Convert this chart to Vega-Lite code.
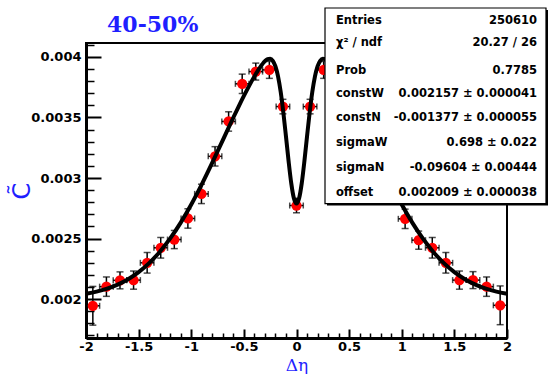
{
  "$schema": "https://vega.github.io/schema/vega-lite/v6.json",
  "width": 421,
  "height": 295,
  "autosize": {"type": "none"},
  "padding": {"left": 86, "top": 43, "right": 43, "bottom": 36},
  "background": "white",
  "config": {"view": {"stroke": "black", "strokeWidth": 2}},
  "datasets": {
    "pts": [
      {"deta": -1.935, "c": 0.001945, "err": 0.00016, "xerr": 0.0645},
      {"deta": -1.806, "c": 0.002103, "err": 0.00008, "xerr": 0.0645},
      {"deta": -1.677, "c": 0.002155, "err": 0.00007, "xerr": 0.0645},
      {"deta": -1.548, "c": 0.002157, "err": 0.000075, "xerr": 0.0645},
      {"deta": -1.419, "c": 0.0023, "err": 0.000085, "xerr": 0.0645},
      {"deta": -1.29, "c": 0.002424, "err": 0.000085, "xerr": 0.0645},
      {"deta": -1.161, "c": 0.002492, "err": 0.000075, "xerr": 0.0645},
      {"deta": -1.032, "c": 0.002666, "err": 0.00008, "xerr": 0.0645},
      {"deta": -0.903, "c": 0.002869, "err": 0.00008, "xerr": 0.0645},
      {"deta": -0.774, "c": 0.003179, "err": 0.00008, "xerr": 0.0645},
      {"deta": -0.645, "c": 0.003467, "err": 0.00008, "xerr": 0.0645},
      {"deta": -0.516, "c": 0.003778, "err": 0.00008, "xerr": 0.0645},
      {"deta": -0.387, "c": 0.003879, "err": 0.00007, "xerr": 0.0645},
      {"deta": -0.258, "c": 0.003893, "err": 0.00007, "xerr": 0.0645},
      {"deta": -0.129, "c": 0.00359, "err": 0.00006, "xerr": 0.0645},
      {"deta": 0, "c": 0.002773, "err": 0.00006, "xerr": 0.0645},
      {"deta": 0.129, "c": 0.00359, "err": 0.00006, "xerr": 0.0645},
      {"deta": 0.258, "c": 0.003893, "err": 0.00007, "xerr": 0.0645},
      {"deta": 0.387, "c": 0.00388, "err": 0.00007, "xerr": 0.0645},
      {"deta": 0.516, "c": 0.00378, "err": 0.00008, "xerr": 0.0645},
      {"deta": 0.645, "c": 0.00347, "err": 0.00008, "xerr": 0.0645},
      {"deta": 0.774, "c": 0.00318, "err": 0.00008, "xerr": 0.0645},
      {"deta": 0.903, "c": 0.00287, "err": 0.00008, "xerr": 0.0645},
      {"deta": 1.032, "c": 0.002663, "err": 0.00008, "xerr": 0.0645},
      {"deta": 1.161, "c": 0.002487, "err": 0.000075, "xerr": 0.0645},
      {"deta": 1.29, "c": 0.002424, "err": 0.000085, "xerr": 0.0645},
      {"deta": 1.419, "c": 0.0023, "err": 0.000085, "xerr": 0.0645},
      {"deta": 1.548, "c": 0.002157, "err": 0.000075, "xerr": 0.0645},
      {"deta": 1.677, "c": 0.002157, "err": 0.00007, "xerr": 0.0645},
      {"deta": 1.806, "c": 0.002103, "err": 0.00008, "xerr": 0.0645},
      {"deta": 1.935, "c": 0.001949, "err": 0.00016, "xerr": 0.0645}
    ],
    "fit": [
      {"deta": -2.0, "c": 0.0020446}, {"deta": -1.9, "c": 0.0020621}, {"deta": -1.8, "c": 0.0020866},
      {"deta": -1.7, "c": 0.0021201}, {"deta": -1.6, "c": 0.0021649}, {"deta": -1.5, "c": 0.0022233},
      {"deta": -1.4, "c": 0.0022976}, {"deta": -1.3, "c": 0.0023897}, {"deta": -1.2, "c": 0.0025011},
      {"deta": -1.1, "c": 0.0026321}, {"deta": -1.0, "c": 0.002782}, {"deta": -0.9, "c": 0.0029484},
      {"deta": -0.8, "c": 0.0031274}, {"deta": -0.7, "c": 0.0033135}, {"deta": -0.6, "c": 0.0034998},
      {"deta": -0.55, "c": 0.0035904}, {"deta": -0.5, "c": 0.003678}, {"deta": -0.45, "c": 0.0037612},
      {"deta": -0.4, "c": 0.0038392}, {"deta": -0.35, "c": 0.0039094}, {"deta": -0.3, "c": 0.0039652},
      {"deta": -0.275, "c": 0.0039821}, {"deta": -0.25, "c": 0.0039855}, {"deta": -0.225, "c": 0.0039683},
      {"deta": -0.2, "c": 0.0039218}, {"deta": -0.175, "c": 0.0038375}, {"deta": -0.15, "c": 0.0037101},
      {"deta": -0.125, "c": 0.0035414}, {"deta": -0.1, "c": 0.0033432}, {"deta": -0.075, "c": 0.0031385},
      {"deta": -0.05, "c": 0.002958}, {"deta": -0.025, "c": 0.0028335}, {"deta": 0, "c": 0.002789},
      {"deta": 0.025, "c": 0.0028335}, {"deta": 0.05, "c": 0.002958}, {"deta": 0.075, "c": 0.0031385},
      {"deta": 0.1, "c": 0.0033432}, {"deta": 0.125, "c": 0.0035414}, {"deta": 0.15, "c": 0.0037101},
      {"deta": 0.175, "c": 0.0038375}, {"deta": 0.2, "c": 0.0039218}, {"deta": 0.225, "c": 0.0039683},
      {"deta": 0.25, "c": 0.0039855}, {"deta": 0.275, "c": 0.0039821}, {"deta": 0.3, "c": 0.0039652},
      {"deta": 0.35, "c": 0.0039094}, {"deta": 0.4, "c": 0.0038392}, {"deta": 0.45, "c": 0.0037612},
      {"deta": 0.5, "c": 0.003678}, {"deta": 0.55, "c": 0.0035904}, {"deta": 0.6, "c": 0.0034998},
      {"deta": 0.7, "c": 0.0033135}, {"deta": 0.8, "c": 0.0031274}, {"deta": 0.9, "c": 0.0029484},
      {"deta": 1.0, "c": 0.002782}, {"deta": 1.1, "c": 0.0026321}, {"deta": 1.2, "c": 0.0025011},
      {"deta": 1.3, "c": 0.0023897}, {"deta": 1.4, "c": 0.0022976}, {"deta": 1.5, "c": 0.0022233},
      {"deta": 1.6, "c": 0.0021649}, {"deta": 1.7, "c": 0.0021201}, {"deta": 1.8, "c": 0.0020866},
      {"deta": 1.9, "c": 0.0020621}, {"deta": 2.0, "c": 0.0020446}
    ],
    "stats": [
      {"name": "Entries", "val": "250610", "ypos": 0.004299},
      {"name": "χ² / ndf", "val": "20.27 / 26", "ypos": 0.004113},
      {"name": "Prob", "val": "0.7785", "ypos": 0.003887},
      {"name": "constW", "val": "0.002157 ± 0.000041", "ypos": 0.003693},
      {"name": "constN", "val": "-0.001377 ± 0.000055", "ypos": 0.003495},
      {"name": "sigmaW", "val": "0.698 ± 0.022", "ypos": 0.003289},
      {"name": "sigmaN", "val": "-0.09604 ± 0.00444", "ypos": 0.003083},
      {"name": "offset", "val": "0.002009 ± 0.000038", "ypos": 0.002877}
    ],
    "label": [{"text": "40-50%", "deta": -1.8, "c": 0.004208}],
    "one": [{}]
  },
  "resolve": {"axis": {"x": "independent", "y": "independent"}},
  "layer": [
    {
      "data": {"name": "pts"},
      "mark": {"type": "errorbar", "ticks": true, "color": "black", "thickness": 1.5, "size": 7},
      "encoding": {
        "x": {"field": "deta", "type": "quantitative", "scale": {"domain": [-2, 2], "nice": false, "zero": false}, "axis": null},
        "y": {"field": "c", "type": "quantitative", "scale": {"domain": [0.001679, 0.004115], "nice": false, "zero": false}, "axis": null},
        "yError": {"field": "err"}
      }
    },
    {
      "data": {"name": "pts"},
      "mark": {"type": "errorbar", "ticks": true, "color": "black", "thickness": 1.5, "size": 6},
      "encoding": {
        "x": {"field": "deta", "type": "quantitative", "scale": {"domain": [-2, 2], "nice": false, "zero": false}, "axis": null},
        "xError": {"field": "xerr"},
        "y": {"field": "c", "type": "quantitative", "scale": {"domain": [0.001679, 0.004115], "nice": false, "zero": false}, "axis": null}
      }
    },
    {
      "data": {"name": "pts"},
      "mark": {"type": "circle", "color": "#ff0000", "size": 105, "opacity": 1},
      "encoding": {
        "x": {"field": "deta", "type": "quantitative", "scale": {"domain": [-2, 2], "nice": false, "zero": false},
          "axis": {"orient": "bottom", "values": [-2, -1.5, -1, -0.5, 0, 0.5, 1, 1.5, 2], "labelExpr": "'' + datum.value", "ticks": false, "grid": false, "domain": true, "domainColor": "black", "domainWidth": 3, "labelFont": "DejaVu Sans", "labelFontWeight": "bold", "labelFontSize": 13, "labelColor": "black", "labelPadding": 2, "labelFlush": false, "labelOverlap": false, "title": "Δη", "titleFont": "DejaVu Serif", "titleFontSize": 17, "titleFontWeight": "normal", "titleColor": "#1f1fff", "titleX": 210.5, "titleY": 32, "titleBaseline": "alphabetic", "titleAlign": "center"}},
        "y": {"field": "c", "type": "quantitative", "scale": {"domain": [0.001679, 0.004115], "nice": false, "zero": false},
          "axis": {"orient": "left", "values": [0.002, 0.0025, 0.003, 0.0035, 0.004], "labelExpr": "'' + datum.value", "ticks": false, "grid": false, "domain": true, "domainColor": "black", "domainWidth": 3, "labelFont": "DejaVu Sans", "labelFontWeight": "bold", "labelFontSize": 13, "labelColor": "black", "labelPadding": 5, "labelFlush": false, "labelOverlap": false, "title": "C̃", "titleFont": "DejaVu Sans", "titleFontSize": 24, "titleFontWeight": "normal", "titleColor": "#1f1fff", "titleX": -64, "titleY": 147.5, "titleBaseline": "middle", "titleAlign": "center", "titleAngle": 270}}
      }
    },
    {
      "data": {"name": "fit"},
      "mark": {"type": "line", "color": "black", "strokeWidth": 4, "interpolate": "monotone"},
      "encoding": {
        "x": {"field": "deta", "type": "quantitative", "scale": {"domain": [-2, 2], "nice": false, "zero": false},
          "axis": {"orient": "bottom", "values": [-2, -1.5, -1, -0.5, 0, 0.5, 1, 1.5, 2], "labels": false, "domain": false, "grid": false, "title": null, "ticks": true, "tickSize": -9, "tickWidth": 2, "tickColor": "black"}},
        "y": {"field": "c", "type": "quantitative", "scale": {"domain": [0.001679, 0.004115], "nice": false, "zero": false},
          "axis": {"orient": "left", "values": [0.002, 0.0025, 0.003, 0.0035, 0.004], "labels": false, "domain": false, "grid": false, "title": null, "ticks": true, "tickSize": -15, "tickWidth": 2, "tickColor": "black"}}
      }
    },
    {
      "data": {"name": "one"},
      "mark": {"type": "rect", "color": "black", "xOffset": 2, "x2Offset": 2, "yOffset": 2, "y2Offset": 2},
      "encoding": {
        "x": {"datum": 0.2708, "type": "quantitative", "scale": {"domain": [-2, 2], "nice": false, "zero": false},
          "axis": {"orient": "bottom", "values": [-1.9, -1.8, -1.7, -1.6, -1.4, -1.3, -1.2, -1.1, -0.9, -0.8, -0.7, -0.6, -0.4, -0.3, -0.2, -0.1, 0.1, 0.2, 0.3, 0.4, 0.6, 0.7, 0.8, 0.9, 1.1, 1.2, 1.3, 1.4, 1.6, 1.7, 1.8, 1.9], "labels": false, "domain": false, "grid": false, "title": null, "ticks": true, "tickSize": -5, "tickWidth": 1.5, "tickColor": "black"}},
        "x2": {"datum": 2.3705},
        "y": {"datum": 0.004404, "type": "quantitative", "scale": {"domain": [0.001679, 0.004115], "nice": false, "zero": false},
          "axis": {"orient": "left", "values": [0.0017, 0.0018, 0.0019, 0.0021, 0.0022, 0.0023, 0.0024, 0.0026, 0.0027, 0.0028, 0.0029, 0.0031, 0.0032, 0.0033, 0.0034, 0.0036, 0.0037, 0.0038, 0.0039, 0.0041], "labels": false, "domain": false, "grid": false, "title": null, "ticks": true, "tickSize": -8, "tickWidth": 1.5, "tickColor": "black"}},
        "y2": {"datum": 0.002789}
      }
    },
    {
      "data": {"name": "one"},
      "mark": {"type": "rect", "fill": "white", "stroke": "black", "strokeWidth": 1.2},
      "encoding": {
        "x": {"datum": 0.2708, "type": "quantitative", "axis": null},
        "x2": {"datum": 2.3705},
        "y": {"datum": 0.004404, "type": "quantitative", "axis": null},
        "y2": {"datum": 0.002789}
      }
    },
    {
      "data": {"name": "stats"},
      "mark": {"type": "text", "align": "left", "baseline": "middle", "font": "DejaVu Sans", "fontWeight": "bold", "fontSize": 11.5, "color": "black"},
      "encoding": {
        "x": {"datum": 0.375, "type": "quantitative", "axis": null},
        "y": {"field": "ypos", "type": "quantitative", "axis": null},
        "text": {"field": "name"}
      }
    },
    {
      "data": {"name": "stats"},
      "mark": {"type": "text", "align": "right", "baseline": "middle", "font": "DejaVu Sans", "fontWeight": "bold", "fontSize": 11.5, "color": "black"},
      "encoding": {
        "x": {"datum": 2.285, "type": "quantitative", "axis": null},
        "y": {"field": "ypos", "type": "quantitative", "axis": null},
        "text": {"field": "val"}
      }
    },
    {
      "data": {"name": "label"},
      "mark": {"type": "text", "align": "left", "baseline": "alphabetic", "font": "DejaVu Serif", "fontWeight": "bold", "fontSize": 22, "color": "#1f1fff"},
      "encoding": {
        "x": {"field": "deta", "type": "quantitative", "axis": null},
        "y": {"field": "c", "type": "quantitative", "axis": null},
        "text": {"field": "text"}
      }
    }
  ]
}
